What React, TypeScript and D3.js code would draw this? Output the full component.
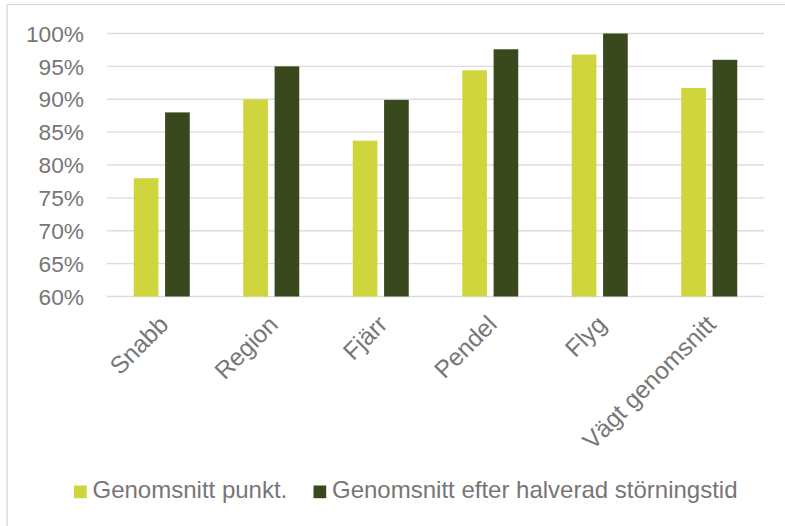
import React from "react";
import * as d3 from "d3";

// Punctuality per traffic type, before and after halved disruption time
const categories = ["Snabb", "Region", "Fjärr", "Pendel", "Flyg", "Vägt genomsnitt"];
const seriesNames = ["Genomsnitt punkt.", "Genomsnitt efter halverad störningstid"];
const punktValues = [0.78, 0.9, 0.837, 0.944, 0.968, 0.917];
const halvValues = [0.88, 0.95, 0.899, 0.976, 1.0, 0.96];
const seriesColors = ["#CFD53D", "#3A481E"];
const yTicks = [0.6, 0.65, 0.7, 0.75, 0.8, 0.85, 0.9, 0.95, 1.0];

const W = 785;
const H = 526;
const plot = { left: 107, right: 764, top: 33.5, bottom: 296.5 };
const FONT = "'Liberation Sans', Arial, sans-serif";
const TEXT = "#767676";

export default function App() {
  const x = d3.scaleBand<string>().domain(categories).range([plot.left, plot.right]).padding(0);
  const inner = d3
    .scaleBand<string>()
    .domain(seriesNames)
    .range([-28, 28])
    .paddingInner(0.213)
    .paddingOuter(0);
  const y = d3.scaleLinear().domain([0.6, 1.0]).range([plot.bottom, plot.top]);
  const pct = d3.format(".0%");
  const series = [punktValues, halvValues];

  return (
    <svg
      width={W}
      height={H}
      style={{ position: "absolute", left: 0, top: 0, background: "#fff" }}
      fontFamily={FONT}
    >
      <rect x={7} y={4.5} width={W + 20} height={H + 20} fill="#fff" stroke="#d9d9d9" strokeWidth={1.3} />

      {/* gridlines */}
      {yTicks.map((t) => (
        <line
          key={t}
          x1={plot.left}
          x2={plot.right}
          y1={y(t)}
          y2={y(t)}
          stroke="#dcdcdc"
          strokeWidth={1.3}
        />
      ))}

      {/* y tick labels */}
      {yTicks.map((t) => (
        <text
          key={"l" + t}
          x={84}
          y={y(t)}
          dy="0.36em"
          textAnchor="end"
          fontSize={22.7}
          fill={TEXT}
        >
          {pct(t)}
        </text>
      ))}

      {/* bars */}
      {categories.map((c, i) => {
        const cx = (x(c) as number) + x.bandwidth() / 2;
        return series.map((vals, s) => (
          <rect
            key={c + s}
            x={cx + (inner(seriesNames[s]) as number)}
            y={y(vals[i])}
            width={inner.bandwidth()}
            height={y(0.6) - y(vals[i])}
            fill={seriesColors[s]}
          />
        ));
      })}

      {/* category labels */}
      {categories.map((c) => {
        const cx = (x(c) as number) + x.bandwidth() / 2 + 2;
        const cy = 320;
        return (
          <text
            key={"c" + c}
            x={cx}
            y={cy}
            dy="0.35em"
            textAnchor="end"
            fontSize={24.4}
            fill={TEXT}
            transform={`rotate(-45 ${cx} ${cy})`}
          >
            {c}
          </text>
        );
      })}

      {/* legend */}
      {seriesNames.map((n, s) => {
        const lx = [74, 313.5][s];
        return (
          <g key={"lg" + n}>
            <rect x={lx} y={485.5} width={12.7} height={12.7} fill={seriesColors[s]} />
            <text x={lx + 18.5} y={498.3} fontSize={24} fill={TEXT}>
              {n}
            </text>
          </g>
        );
      })}
    </svg>
  );
}
